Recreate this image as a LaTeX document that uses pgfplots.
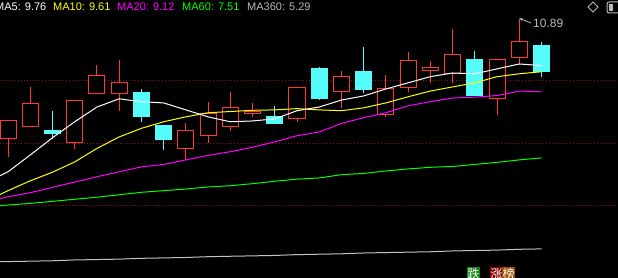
\documentclass[border=0pt]{standalone}
\usepackage{pgfplots}
\pgfplotsset{compat=1.18}
\usepackage{pgfplotstable}
\usepgfplotslibrary{statistics}
\usetikzlibrary{arrows.meta}
\usepackage{fontspec}
\setmainfont{Liberation Sans}
\newfontfamily\cjk{Noto Sans CJK SC}

\definecolor{cred}{RGB}{255,55,55}
\definecolor{ccyan}{RGB}{84,252,252}
\definecolor{cgrid}{RGB}{150,20,20}
\definecolor{cgray}{RGB}{195,195,195}
\definecolor{ctext}{RGB}{185,185,185}
\definecolor{cyel}{RGB}{255,255,0}
\definecolor{cmag}{RGB}{255,0,255}
\definecolor{cgrn}{RGB}{0,255,0}
\definecolor{cwht}{RGB}{255,255,255}
\definecolor{cblk}{RGB}{0,0,0}

\pgfplotstableread{
idx  ma5   ma10  ma20  ma60  ma360
-1   6.90  6.45  6.44  6.31  4.97
0    7.17  6.71  6.56  6.36  4.98
1    7.58  6.95  6.66  6.40  4.99
2    8.00  7.16  6.79  6.45  5.00
3    8.39  7.41  6.92  6.50  5.02
4    8.75  7.74  7.05  6.55  5.03
5    8.95  8.02  7.17  6.61  5.04
6    8.88  8.23  7.29  6.67  5.06
7    8.85  8.39  7.35  6.71  5.07
8    8.68  8.51  7.46  6.75  5.08
9    8.51  8.61  7.57  6.80  5.10
10   8.39  8.64  7.66  6.83  5.11
11   8.41  8.67  7.77  6.88  5.12
12   8.46  8.68  7.90  6.94  5.13
13   8.66  8.71  8.05  6.99  5.15
14   8.75  8.68  8.14  7.02  5.16
15   8.92  8.66  8.35  7.10  5.17
16   9.02  8.73  8.49  7.13  5.19
17   9.19  8.85  8.61  7.19  5.20
18   9.34  9.00  8.78  7.24  5.21
19   9.49  9.14  8.88  7.28  5.22
20   9.58  9.24  8.97  7.30  5.24
21   9.56  9.34  8.99  7.35  5.25
22   9.68  9.49  9.03  7.40  5.26
23   9.80  9.56  9.14  7.46  5.28
24   9.76  9.61  9.12  7.51  5.29
}\matable

% candle: position, low, body low, body high, high, style
\newcommand{\candle}[6]{%
  \addplot[#6, line width=1pt, boxplot prepared={draw position=#1,
    lower whisker=#2, lower quartile=#3, median=#3,
    upper quartile=#4, upper whisker=#5}] coordinates {};}

\begin{document}
\begin{tikzpicture}
\useasboundingbox (0,0) rectangle (618pt,278pt);
\fill[cblk] (0,0) rectangle (618pt,278pt);
\begin{axis}[
  at={(0,0)}, anchor=south west,
  scale only axis, width=618pt, height=278pt,
  xmin=-0.36, xmax=27.44, ymin=4.58, ymax=11.36,
  axis line style={draw=none}, tick style={draw=none},
  xtick=\empty, ytick={6.34,7.85,9.39}, yticklabels={},
  ymajorgrids=true,
  grid style={line width=1pt, dash pattern=on 1pt off 2pt, color=cgrid},
  boxplot/draw direction=y,
  boxplot/box extend=0.72,
  boxplot/whisker extend=0,
  up/.style={draw=cred, fill=cblk},
  dn/.style={draw=ccyan, fill=ccyan},
]
\candle{0}{7.53}{7.97}{8.41}{8.41}{up}
\candle{1}{8.27}{8.27}{8.83}{9.24}{up}
\candle{2}{7.97}{8.10}{8.17}{8.66}{dn}
\candle{3}{7.73}{7.88}{8.92}{8.92}{up}
\candle{4}{9.07}{9.07}{9.53}{9.78}{up}
\candle{5}{8.66}{9.07}{9.34}{9.90}{up}
\candle{6}{8.39}{8.51}{9.10}{9.19}{dn}
\candle{7}{7.71}{7.95}{8.31}{8.31}{dn}
\candle{8}{7.46}{7.74}{8.17}{8.36}{up}
\candle{9}{7.88}{8.05}{8.58}{8.88}{up}
\candle{10}{8.17}{8.27}{8.73}{9.12}{up}
\candle{11}{8.51}{8.58}{8.63}{8.85}{up}
\candle{12}{8.34}{8.36}{8.51}{8.78}{dn}
\candle{13}{8.39}{8.46}{9.22}{9.22}{up}
\candle{14}{8.92}{8.95}{9.68}{9.73}{dn}
\candle{15}{8.73}{9.14}{9.49}{9.63}{up}
\candle{16}{9.10}{9.17}{9.61}{10.22}{dn}
\candle{17}{8.51}{8.56}{9.19}{9.53}{up}
\candle{18}{9.12}{9.22}{9.88}{10.10}{up}
\candle{19}{9.34}{9.63}{9.71}{9.88}{up}
\candle{20}{9.34}{9.56}{10.02}{10.66}{up}
\candle{21}{9.02}{9.02}{9.90}{10.12}{dn}
\candle{22}{8.56}{8.95}{9.92}{9.92}{up}
\candle{23}{9.78}{9.95}{10.34}{10.89}{up}
\candle{24}{9.49}{9.61}{10.24}{10.34}{dn}

\addplot[cgray, line width=1pt, mark=none] table[x=idx, y=ma360] {\matable};
\addplot[cgrn, line width=1pt, mark=none] table[x=idx, y=ma60] {\matable};
\addplot[cmag, line width=1pt, mark=none] table[x=idx, y=ma20] {\matable};
\addplot[cyel, line width=1pt, mark=none] table[x=idx, y=ma10] {\matable};
\addplot[cwht, line width=1pt, mark=none] table[x=idx, y=ma5] {\matable};
\end{axis}

% legend texts
\begin{scope}[every node/.style={anchor=base west, inner sep=0pt, font=\fontsize{11}{13}\selectfont}]
\node[text=cwht] at (-5pt,267.3pt) {MA5: 9.76};
\node[text=cyel] at (53pt,267.3pt) {MA10: 9.61};
\node[text=cmag] at (117pt,267.3pt) {MA20: 9.12};
\node[text=cgrn] at (182pt,267.3pt) {MA60: 7.51};
\node[text=ctext] at (247pt,267.3pt) {MA360: 5.29};
\end{scope}

% high annotation
\draw[ctext, line width=0.8pt, {Stealth[length=3pt,width=3pt]}-] (519.5pt,259.5pt) -- (531pt,255pt);
\node[anchor=base west, inner sep=0pt, text=ctext, font=\fontsize{12}{14}\selectfont] at (533pt,250pt) {10.89};

% top-right icons
\draw[ctext, line width=0.8pt] (593pt,276pt) -- (598pt,271pt) -- (593pt,266pt) -- (588pt,271pt) -- cycle;
\draw[ctext, line width=1pt, rounded corners=2pt] (607pt,276pt) rectangle (622pt,265pt);
\fill[ctext] (609pt,274pt) rectangle (613pt,267pt);

% bottom badges
\node[anchor=north west, fill={rgb,255:red,20;green,130;blue,20}, text=cwht, inner sep=0.5pt, minimum height=14pt, minimum width=13pt, font=\cjk\fontsize{12}{12}\selectfont] at (467pt,11.5pt) {跌};
\node[anchor=north west, fill={rgb,255:red,140;green,0;blue,0}, text=cwht, inner sep=0.5pt, minimum height=14pt, minimum width=12pt, font=\cjk\fontsize{12}{12}\selectfont] at (490pt,11.5pt) {涨};
\node[anchor=north west, fill={rgb,255:red,160;green,80;blue,0}, text=cwht, inner sep=0.5pt, minimum height=14pt, minimum width=13pt, font=\cjk\fontsize{12}{12}\selectfont] at (502pt,11.5pt) {榜};
\end{tikzpicture}
\end{document}
